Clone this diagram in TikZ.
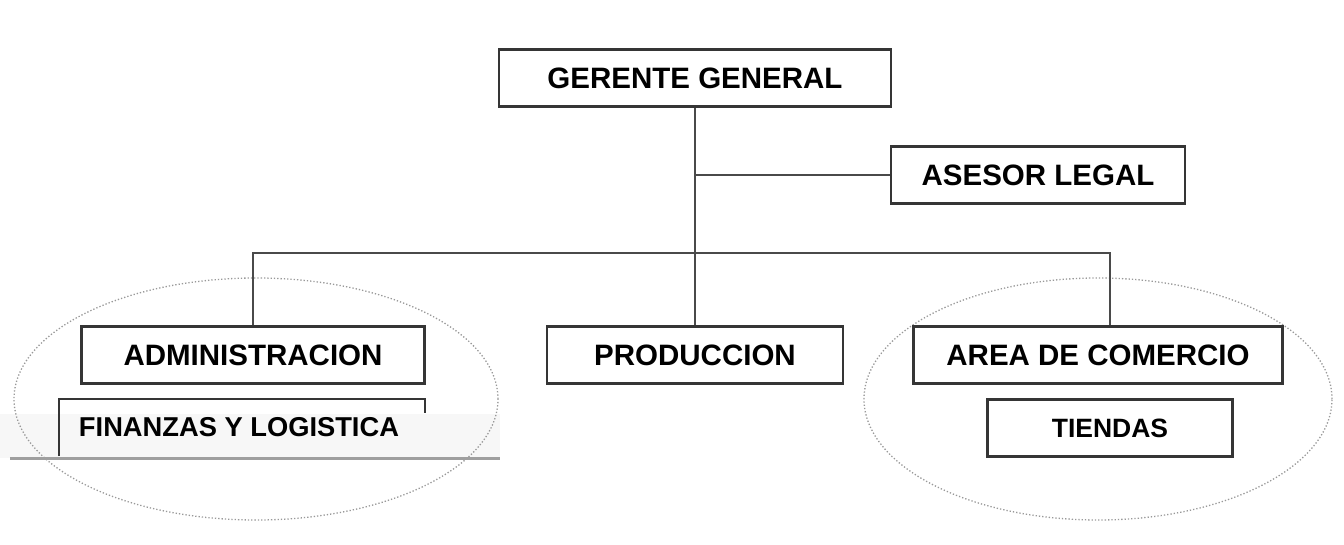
\documentclass[tikz,border=0pt]{standalone}
\usepackage{fontspec}
\setmainfont{Liberation Sans}
\usepackage{tikz}
\usetikzlibrary{shapes.geometric, arrows}
\definecolor{boxline}{HTML}{353535}
\definecolor{linkline}{HTML}{4A4A4A}
\tikzstyle{unit} = [rectangle, minimum height=57pt, text centered, draw=boxline, line width=2.8pt, fill=white, inner sep=0pt, font=\bfseries\fontsize{29.5}{30}\selectfont]
\tikzstyle{link} = [draw=linkline, line width=2.8pt]
\tikzstyle{group} = [draw=gray!80, dotted, line width=1.3pt]

\begin{document}
\begin{tikzpicture}[x=1pt, y=-1pt, node distance=277pt]
\useasboundingbox (0,0) rectangle (1344,545);

% Groups
\fill [gray!6] (0,414) rectangle (500,458);
\draw [group] (256,399) ellipse [x radius=242pt, y radius=121pt];
\draw [group] (1098,399) ellipse [x radius=234pt, y radius=121pt];

% Nodes
\node (gerente) [unit, minimum width=392pt] at (695,78) {GERENTE GENERAL};
\node (asesor) [unit, minimum width=294pt, right of=gerente, xshift=66pt, yshift=-97pt] {ASESOR LEGAL};
\node (prod) [unit, minimum width=296pt, below of=gerente] {PRODUCCION};
\node (admin) [unit, minimum width=343pt, left of=prod, xshift=-165pt] {ADMINISTRACION};
\node (comercio) [unit, minimum width=369pt, right of=prod, xshift=126pt] {AREA DE COMERCIO};
\node (tiendas) [unit, minimum width=245pt, node distance=73pt, below of=comercio, xshift=12pt, font=\bfseries\fontsize{26.5}{28}\selectfont] {TIENDAS};
\node (finanzas) [node distance=72pt, below of=admin, xshift=-14pt, font=\bfseries\fontsize{27.3}{28}\selectfont] {FINANZAS Y LOGISTICA};

% Open frame under ADMINISTRACION
\draw [boxline, line width=2.8pt] (59,456) -- (59,399) -- (425,399) -- (425,413);
\draw [gray!75, line width=3pt] (10,458) -- (500,458);

% Arrows
\coordinate (bus) at (696,253);
\coordinate (comtop) at (tiendas.center |- comercio.north);
\draw [link] (gerente.south) -- (prod.north);
\draw [link] (asesor.west -| gerente.south) -- (asesor.west);
\draw [link] (admin.north) |- (bus) -| (comtop);

\end{tikzpicture}
\end{document}
